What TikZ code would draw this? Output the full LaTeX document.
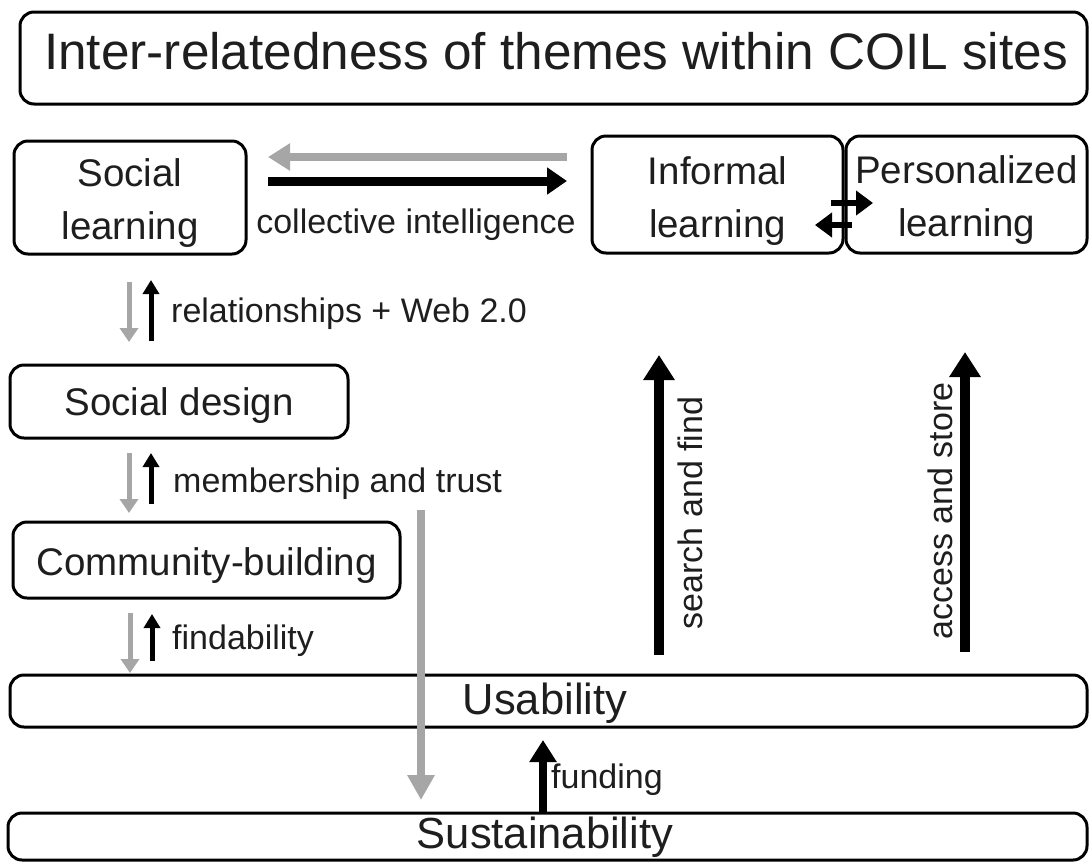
\documentclass[tikz,border=0pt]{standalone}
\usepackage{fontspec}
\setmainfont{Liberation Sans}
\usetikzlibrary{arrows.meta}
\definecolor{agray}{RGB}{166,166,166}
\definecolor{txt}{RGB}{30,30,30}
\newcommand\mystrut[1]{\rule{0pt}{#1pt}}
\begin{document}
\begin{tikzpicture}[x=1pt,y=-1pt,
  box/.style={draw=black, line width=3pt, rounded corners=14pt, inner sep=0pt, align=center, text=txt},
  boxfont/.style={font=\fontsize{38.5}{53}\selectfont},
  bigfont/.style={font=\fontsize{43.5}{50}\selectfont},
  lab/.style={font=\fontsize{34}{40}\selectfont, text=txt, inner sep=0pt},
  grayarr/.style={draw=agray, line width=#1},
  blackarr/.style={draw=black, line width=#1},
  smallgray/.style={draw=agray, line width=5pt, -{Triangle[length=14pt,width=18pt]}},
  smallblack/.style={draw=black, line width=5pt, -{Triangle[length=14pt,width=16pt]}}
]
\useasboundingbox (0,0) rectangle (1089,863);

% title
\node[box, minimum width=1067, minimum height=92] (title) at (553.5,58) {};
\node[text=txt, inner sep=0pt, font=\fontsize{51.3}{60}\selectfont, anchor=base] (titletext) at (556,69) {Inter-relatedness of themes within COIL sites};

% boxes
\node[box, boxfont, minimum width=232, minimum height=113] (social) at (130,197.5) {\mystrut{38}Social\\learning};
\node[box, boxfont, minimum width=251, minimum height=117] (informal) at (717.5,194.5) {\mystrut{41}Informal\\learning};
\node[box, boxfont, minimum width=241, minimum height=117] (personal) at (966.5,194.5) {\mystrut{39}Personalized\\learning};
\node[box, boxfont, minimum width=338, minimum height=73] (design) at (179,401.5) {\mystrut{36}Social design};
\node[box, boxfont, minimum width=387, minimum height=76] (community) at (206.5,560) {\mystrut{39}Community-building};
\node[box, minimum width=1077, minimum height=52] (usability) at (548.5,701) {};
\node[text=txt, bigfont, inner sep=0pt, anchor=base] (usabilitytext) at (545,714) {Usability};
\node[box, minimum width=1079, minimum height=47] (sustain) at (547.5,836.5) {};
\node[text=txt, bigfont, inner sep=0pt, anchor=base] (sustaintext) at (545,848) {Sustainability};

% coordinates for arrow ends
\coordinate (h1a) at (567,157); \coordinate (h1b) at (268,157);
\coordinate (h2a) at (268,181); \coordinate (h2b) at (567,181);
\coordinate (d1a) at (129,282); \coordinate (d1b) at (129,342);
\coordinate (u1a) at (151,341); \coordinate (u1b) at (151,280);
\coordinate (d2a) at (129,453); \coordinate (d2b) at (129,513);
\coordinate (u2a) at (151,504); \coordinate (u2b) at (151,453);
\coordinate (d3a) at (130,613); \coordinate (d3b) at (130,673);
\coordinate (u3a) at (152,661); \coordinate (u3b) at (152,614);
\coordinate (lga) at (421,510); \coordinate (lgb) at (421,800);
\coordinate (fua) at (543,813); \coordinate (fub) at (543,740);
\coordinate (sfa) at (659,655); \coordinate (sfb) at (659,355);
\coordinate (asa) at (965,652); \coordinate (asb) at (965,352);
\coordinate (ra) at (831,203); \coordinate (rb) at (873,203);
\coordinate (la) at (852,225); \coordinate (lb) at (815,225);

% arrows
\draw[grayarr=8pt, -{Triangle[length=22pt,width=26pt]}] (h1a) -- (h1b);
\draw[blackarr=9pt, -{Triangle[length=20pt,width=26pt]}] (h2a) -- (h2b);
\draw[smallgray] (d1a) -- (d1b);
\draw[smallblack] (u1a) -- (u1b);
\draw[smallgray] (d2a) -- (d2b);
\draw[smallblack] (u2a) -- (u2b);
\draw[smallgray] (d3a) -- (d3b);
\draw[smallblack] (u3a) -- (u3b);
\draw[grayarr=8pt, -{Triangle[length=25pt,width=26pt]}] (lga) -- (lgb);
\draw[blackarr=8pt, -{Triangle[length=22pt,width=26pt]}] (fua) -- (fub);
\draw[blackarr=10pt, -{Triangle[length=25pt,width=30pt]}] (sfa) -- (sfb);
\draw[blackarr=10pt, -{Triangle[length=25pt,width=30pt]}] (asa) -- (asb);
\draw[blackarr=6pt, -{Triangle[length=17pt,width=24pt]}] (ra) -- (rb);
\draw[blackarr=6pt, -{Triangle[length=17pt,width=24pt]}] (la) -- (lb);

% labels
\node[lab] (collective) at (416,225) {collective intelligence};
\node[lab, anchor=west] (rel) at (171,314) {relationships + Web 2.0};
\node[lab, anchor=west] (member) at (173,484) {membership and trust};
\node[lab, anchor=west] (find) at (172,641) {findability};
\node[lab, anchor=west] (fund) at (551,780) {funding};
\node[lab, rotate=90] (search) at (690,513) {search and find};
\node[lab, rotate=90] (access) at (940,511) {access and store};
\end{tikzpicture}
\end{document}
